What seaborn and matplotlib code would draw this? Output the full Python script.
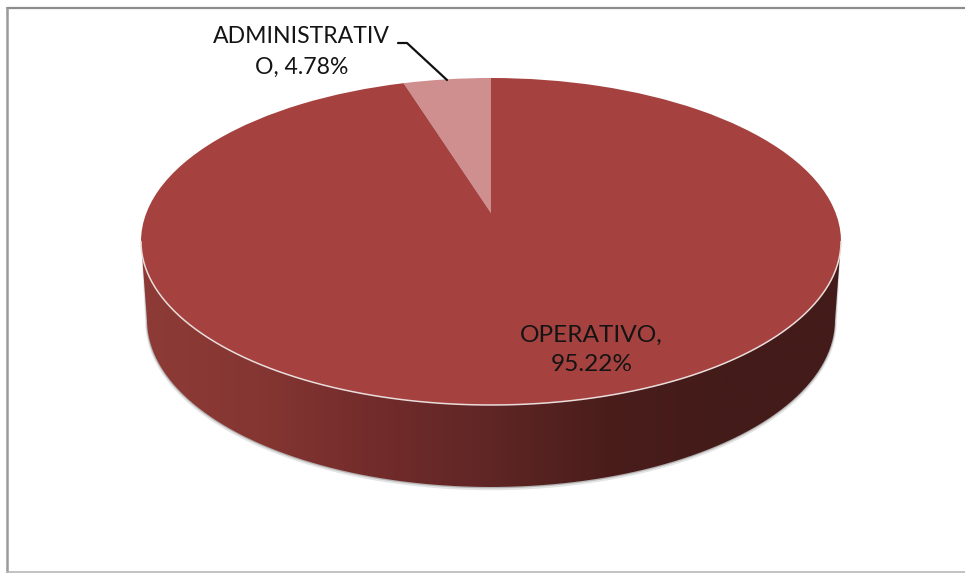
import numpy as np
import matplotlib
matplotlib.use("Agg")
import matplotlib.pyplot as plt
import seaborn as sns
from matplotlib.patches import PathPatch
from matplotlib.path import Path
from matplotlib.transforms import Transform

# data
categories = ["ADMINISTRATIVO", "OPERATIVO"]
values = [4.78, 95.22]
slice_colors = ["#CE8F8E", "#A5423F"]
label_names = ["ADMINISTRATIV\nO", "OPERATIVO"]
label_breaks = [", ", ",\n"]

# pie geometry in pixels of the 965x573 picture
CX, CY = 491, 241.5
RX, RY = 350, 163.5
APEX_Y = 213
DEPTH_CY, DEPTH_RX, DEPTH_RY = 320, 344, 167

sns.set_theme(style="white")
plt.rcParams["font.family"] = ["Lato", "DejaVu Sans"]


class TiltedDisc(Transform):
    """Perspective view of the unit disc, so the apex sits above the ellipse centre."""
    input_dims = output_dims = 2

    def transform_non_affine(self, values):
        xy = np.asarray(values, dtype=float)
        k = (CY - APEX_Y) / RY
        w = 1 + k * xy[:, 1]
        x = CX + RX * np.sqrt(1 - k ** 2) * xy[:, 0] / w
        y = CY - RY * (xy[:, 1] + k) / w
        return np.column_stack([x, y])


fig, ax = plt.subplots(figsize=(9.65, 5.73), dpi=100)
fig.subplots_adjust(0, 0, 1, 1)

wedges, _ = ax.pie(values, colors=slice_colors, startangle=90, counterclock=True,
                   wedgeprops={"linewidth": 0})
ax.set_aspect("auto")
ax.set_xlim(0, 965)
ax.set_ylim(573, 0)
ax.axis("off")

tilt = TiltedDisc() + ax.transData
for w in wedges:
    w.set_transform(tilt)
    w.set_zorder(4)

# side of the disc: gradient clipped to the area between the two ellipses
t = np.linspace(0, np.pi, 200)
lower_x = CX + DEPTH_RX * np.cos(t)
lower_y = DEPTH_CY + DEPTH_RY * np.sin(t)
front_x = CX + RX * np.cos(np.pi - t)
front_y = CY + RY * np.sin(np.pi - t)
rim_verts = np.column_stack([np.r_[front_x, lower_x], np.r_[front_y, lower_y]])
rim_path = Path(rim_verts, closed=False)

# soft shadow under the side, running up both flanks
shadow_x = np.r_[CX + RX - 3, lower_x, CX - RX + 3]
shadow_y = np.r_[265, lower_y, 265]
for offset, lw, col in [(1.5, 2.5, "#e4e4e4"), (0.5, 1.2, "#b5b5b5")]:
    ax.plot(shadow_x, shadow_y + offset, color=col, lw=lw, zorder=1)

rim_cmap = sns.blend_palette(["#8E3B37", "#853632", "#722C2B", "#5F2625", "#4A1D1B", "#431B19", "#431B19"],
                             as_cmap=True)
img = ax.imshow(np.linspace(0, 1, 256)[None, :], cmap=rim_cmap, aspect="auto",
                extent=(141, 841, 490, 240), zorder=2)
img.set_clip_path(PathPatch(rim_path, transform=ax.transData))
ax.set_xlim(0, 965)
ax.set_ylim(573, 0)

# pale highlight along the front edge of the top face
ax.plot(front_x, front_y, color="#e9dcdb", lw=1.1, zorder=5)

# labels
label_xy = [(301.5, 52), (591.5, 350)]
label_sizes = [16.6, 17.6]
label_spacing = [1.58, 1.45]
for name, val, sep, (lx, ly), fs, ls in zip(label_names, values, label_breaks, label_xy, label_sizes, label_spacing):
    ax.text(lx, ly, f"{name}{sep}{val:.2f}%", ha="center", va="center", fontsize=fs,
            color="#141414", linespacing=ls, zorder=6)

# leader line for the small slice
ax.plot([398, 407, 447], [43, 43, 80], color="#111111", lw=1.6, zorder=6)

# chart area border (the right side has none)
ax.plot([7, 965], [8, 8], color="#8c8c8c", lw=1.6, zorder=7)
ax.plot([7, 7], [8, 573], color="#9a9a9a", lw=1.8, zorder=7)
ax.plot([7, 965], [572, 572], color="#b8b8b8", lw=1.2, zorder=7)

plt.savefig("out.png", dpi=100)
plt.close()
